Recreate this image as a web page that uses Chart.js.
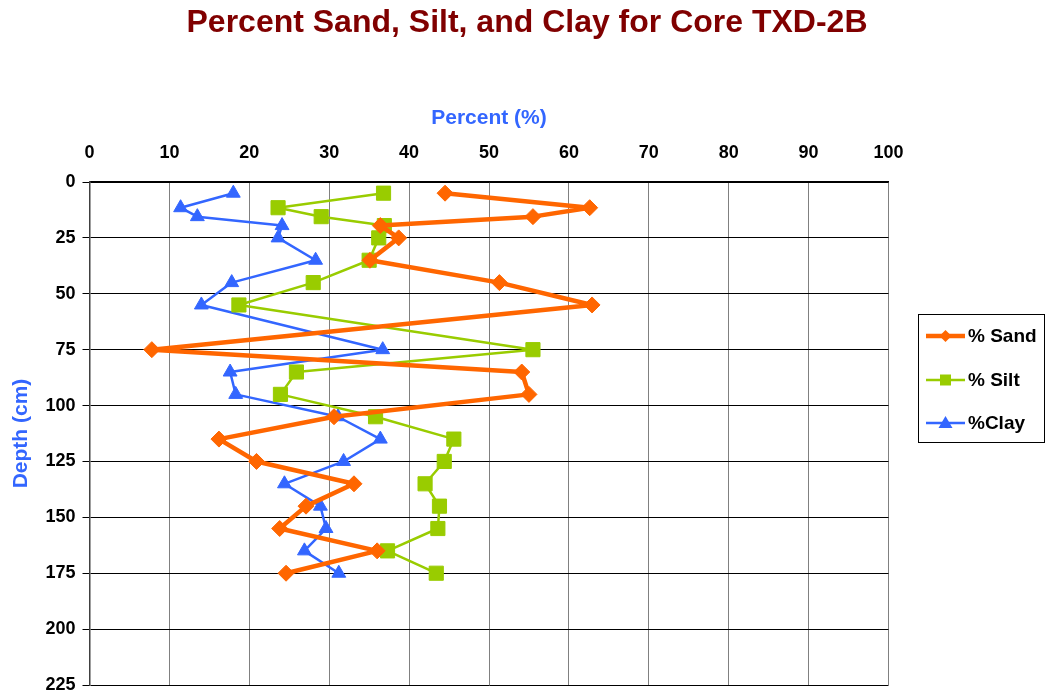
<!DOCTYPE html>
<html>
<head>
<meta charset="utf-8">
<script src="https://cdn.jsdelivr.net/npm/chart.js@4.4.1/dist/chart.umd.min.js"></script>
<style>
html,body{margin:0;padding:0;background:#fff;}
#wrap{position:relative;width:1047px;height:698px;}
</style>
</head>
<body>
<div id="wrap"><canvas id="c" width="1047" height="698"></canvas></div>
<script>
const depthTop = [5, 11.5, 15.5, 19.5, 25, 35, 45, 55];
const depthBottom = [75, 85, 95, 105, 115, 125, 135, 145, 155, 165, 175];
const depths = depthTop.concat(depthBottom);
const sandValues = [44.5, 62.6, 55.5, 36.4, 38.7, 35.1, 51.3, 62.9, 7.8, 54.1, 55.0, 30.6, 16.2, 20.9, 33.1, 27.1, 23.8, 36.0, 24.6];
const siltValues = [36.8, 23.6, 29.0, 36.9, 36.2, 35.0, 28.0, 18.7, 55.5, 25.9, 23.9, 35.8, 45.6, 44.4, 42.0, 43.8, 43.6, 37.3, 43.4];
const clayValues = [18.0, 11.4, 13.5, 24.1, 23.6, 28.3, 17.8, 14.0, 36.7, 17.6, 18.3, 31.1, 36.4, 31.8, 24.4, 28.9, 29.6, 26.9, 31.2];
const seriesNames = ['% Sand', '% Silt', '%Clay'];
const xTicks = [0, 10, 20, 30, 40, 50, 60, 70, 80, 90, 100];
const yTicks = [0, 25, 50, 75, 100, 125, 150, 175, 200, 225];

const toPts = vals => vals.map((v, i) => ({x: v, y: depths[i]}));
const FONT = '"Liberation Sans", Arial, sans-serif';

const titlePlugin = {
  id: 'titleDraw',
  afterDraw(chart) {
    const ctx = chart.ctx;
    ctx.save();
    ctx.fillStyle = '#800000';
    ctx.font = 'bold 32px ' + FONT;
    ctx.textAlign = 'center';
    ctx.textBaseline = 'middle';
    ctx.fillText('Percent Sand, Silt, and Clay for Core TXD-2B', 527, 23);
    ctx.restore();
  }
};

const legendPlugin = {
  id: 'boxLegend',
  afterDraw(chart) {
    const ctx = chart.ctx;
    ctx.save();
    ctx.strokeStyle = '#000';
    ctx.lineWidth = 1;
    ctx.strokeRect(918.5, 314.5, 126, 128);
    const rows = [336, 380, 423];
    chart.data.datasets.forEach((ds, i) => {
      const y = rows[i];
      ctx.strokeStyle = ds.borderColor;
      ctx.lineWidth = ds.borderWidth;
      ctx.beginPath();
      ctx.moveTo(926, y);
      ctx.lineTo(965, y);
      ctx.stroke();
      ctx.fillStyle = ds.backgroundColor;
      ctx.beginPath();
      const cx = 945.5;
      if (ds.pointStyle === 'rectRot') {
        ctx.moveTo(cx, y - 6); ctx.lineTo(cx + 6, y); ctx.lineTo(cx, y + 6); ctx.lineTo(cx - 6, y);
      } else if (ds.pointStyle === 'rect') {
        ctx.rect(cx - 5.5, y - 5.5, 11, 11);
      } else {
        ctx.moveTo(cx, y - 7); ctx.lineTo(cx + 7, y + 5); ctx.lineTo(cx - 7, y + 5);
      }
      ctx.closePath();
      ctx.fill();
      ctx.fillStyle = '#000';
      ctx.font = 'bold 19px ' + FONT;
      ctx.textAlign = 'left';
      ctx.textBaseline = 'middle';
      ctx.fillText(ds.label, 968, y + 1);
    });
    ctx.restore();
  }
};

new Chart(document.getElementById('c'), {
  type: 'scatter',
  data: {
    datasets: [
      {label: seriesNames[0], data: toPts(sandValues), showLine: true, borderColor: '#FF6600', backgroundColor: '#FF6600', borderWidth: 4.5, borderJoinStyle: 'round', pointStyle: 'rectRot', pointRadius: 8, pointHoverRadius: 8, pointBorderWidth: 1},
      {label: seriesNames[1], data: toPts(siltValues), showLine: true, borderColor: '#99CC00', backgroundColor: '#99CC00', borderWidth: 2.5, borderJoinStyle: 'round', pointStyle: 'rect', pointRadius: 10, pointHoverRadius: 10, pointBorderWidth: 1},
      {label: seriesNames[2], data: toPts(clayValues), showLine: true, borderColor: '#3366FF', backgroundColor: '#3366FF', borderWidth: 2.5, borderJoinStyle: 'round', pointStyle: 'triangle', pointRadius: 8, pointHoverRadius: 8, pointBorderWidth: 1}
    ]
  },
  options: {
    responsive: false,
    animation: false,
    devicePixelRatio: 1,
    layout: {padding: {left: 0, right: 158.5, top: 102, bottom: 13}},
    plugins: {legend: {display: false}, title: {display: false}, tooltip: {enabled: false}},
    scales: {
      x: {
        type: 'linear', position: 'top', min: 0, max: 100,
        afterBuildTicks: s => { s.ticks = xTicks.map(v => ({value: v})); },
        afterFit: s => { s.height = 80; },
        ticks: {color: '#000', font: {family: FONT, size: 18, weight: 'bold'}, padding: 18, maxRotation: 0},
        grid: {color: '#808080', lineWidth: 1, drawTicks: false},
        border: {color: '#000', width: 1.5},
        title: {display: true, text: 'Percent (%)', color: '#3366FF', font: {family: FONT, size: 21, weight: 'bold'}, padding: {top: 4, bottom: 0}}
      },
      y: {
        type: 'linear', reverse: true, min: 0, max: 225,
        afterBuildTicks: s => { s.ticks = yTicks.map(v => ({value: v})); },
        afterFit: s => { s.width = 89.5; s.paddingTop = 0; s.paddingBottom = 0; },
        ticks: {color: '#000', font: {family: FONT, size: 18, weight: 'bold'}, padding: 7},
        grid: {color: '#000', lineWidth: 1, tickLength: 7},
        border: {color: '#404040', width: 1.5},
        title: {display: true, text: 'Depth (cm)', color: '#3366FF', font: {family: FONT, size: 21, weight: 'bold'}, padding: {top: 9, bottom: 0}}
      }
    }
  },
  plugins: [titlePlugin, legendPlugin]
});
</script>
</body>
</html>
